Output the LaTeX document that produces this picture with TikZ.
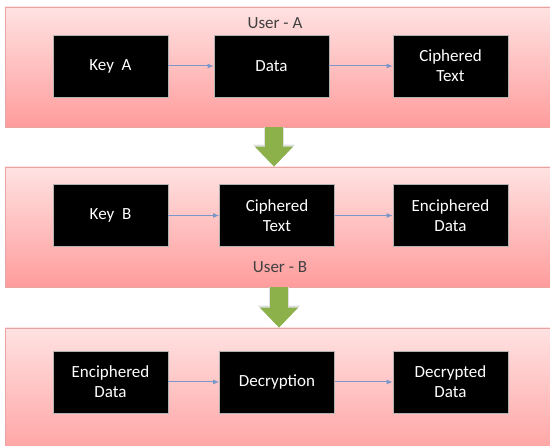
\documentclass[tikz,border=0pt]{standalone}
\usepackage{fontspec}
\setmainfont{Carlito}
\usepackage{tikz}
\usetikzlibrary{arrows.meta}
\usetikzlibrary{positioning,shadows}

\definecolor{panelTop}{HTML}{FFE2E2}
\definecolor{panelBot}{HTML}{FF9C9C}
\definecolor{panelLine}{HTML}{E9A3A3}
\definecolor{linkBlue}{HTML}{7B96C8}
\definecolor{passGreen}{HTML}{8CB14A}
\definecolor{labelGrey}{HTML}{404040}

\begin{document}
\begin{tikzpicture}[x=1pt, y=1pt,
	panel/.style={rectangle, top color=panelTop, bottom color=panelBot, draw=panelLine, line width=0.8pt, minimum width=560pt, minimum height=120pt, drop shadow={shadow xshift=0pt, shadow yshift=-1.5pt, opacity=0.35}},
	box/.style={rectangle, fill=black, draw=gray!60, line width=0.6pt, text=white, minimum width=115pt, minimum height=62pt, align=center, font=\fontsize{17}{20}\selectfont},
	link/.style={draw=linkBlue, line width=1pt, -{Latex[length=6pt, width=5pt]}},
	user/.style={text=labelGrey, font=\fontsize{17}{20}\selectfont},
	passrim/.style={gray!25, line width=20pt, -{Triangle[length=22pt, width=41pt]}},
	pass/.style={passGreen, line width=18pt, -{Triangle[length=20pt, width=37pt]}}
]
	\useasboundingbox (0,0) rectangle (550,-446);
	% the three user panels
	\node[panel] (P-1) at (285,-67) {};
	\node[panel] (P-2) at (285,-227) {};
	\node[panel, minimum height=140pt] (P-3) at (285,-398) {};
	\node[user] (U-A) at (275,-23) {User - A};
	\node[user] (U-B) at (280,-267) {User - B};
	% boxes, one row per panel
	\node[box] (A-1) at (110.5,-66) {Key~~A};
	\node[box] (A-2) at (271.5,-66) {Data};
	\node[box] (A-3) at (450.5,-66) {Ciphered\\Text};
	\node[box] (B-1) at (110.5,-215.5) {Key~~B};
	\node[box] (B-2) at (277,-215.5) {Ciphered\\Text};
	\node[box] (B-3) at (450.5,-215.5) {Enciphered\\Data};
	\node[box] (C-1) at (110.5,-382) {Enciphered\\Data};
	\node[box] (C-2) at (277,-382) {Decryption};
	\node[box] (C-3) at (450.5,-382) {Decrypted\\Data};
	\foreach \r in {A,B,C}{
		\path (\r-1) edge[link] (\r-2);
		\path (\r-2) edge[link] (\r-3);
	}
	% green arrows between the panels
	\draw[passrim] ([xshift=2.5pt]P-1.south -| A-2) -- ([xshift=2.5pt]P-2.north -| A-2);
	\draw[pass] ([xshift=2.5pt]P-1.south -| A-2) -- ([xshift=2.5pt]P-2.north -| A-2);
	\draw[passrim] ([xshift=2pt]P-2.south -| B-2) -- ([xshift=2pt]P-3.north -| B-2);
	\draw[pass] ([xshift=2pt]P-2.south -| B-2) -- ([xshift=2pt]P-3.north -| B-2);
\end{tikzpicture}
\end{document}
